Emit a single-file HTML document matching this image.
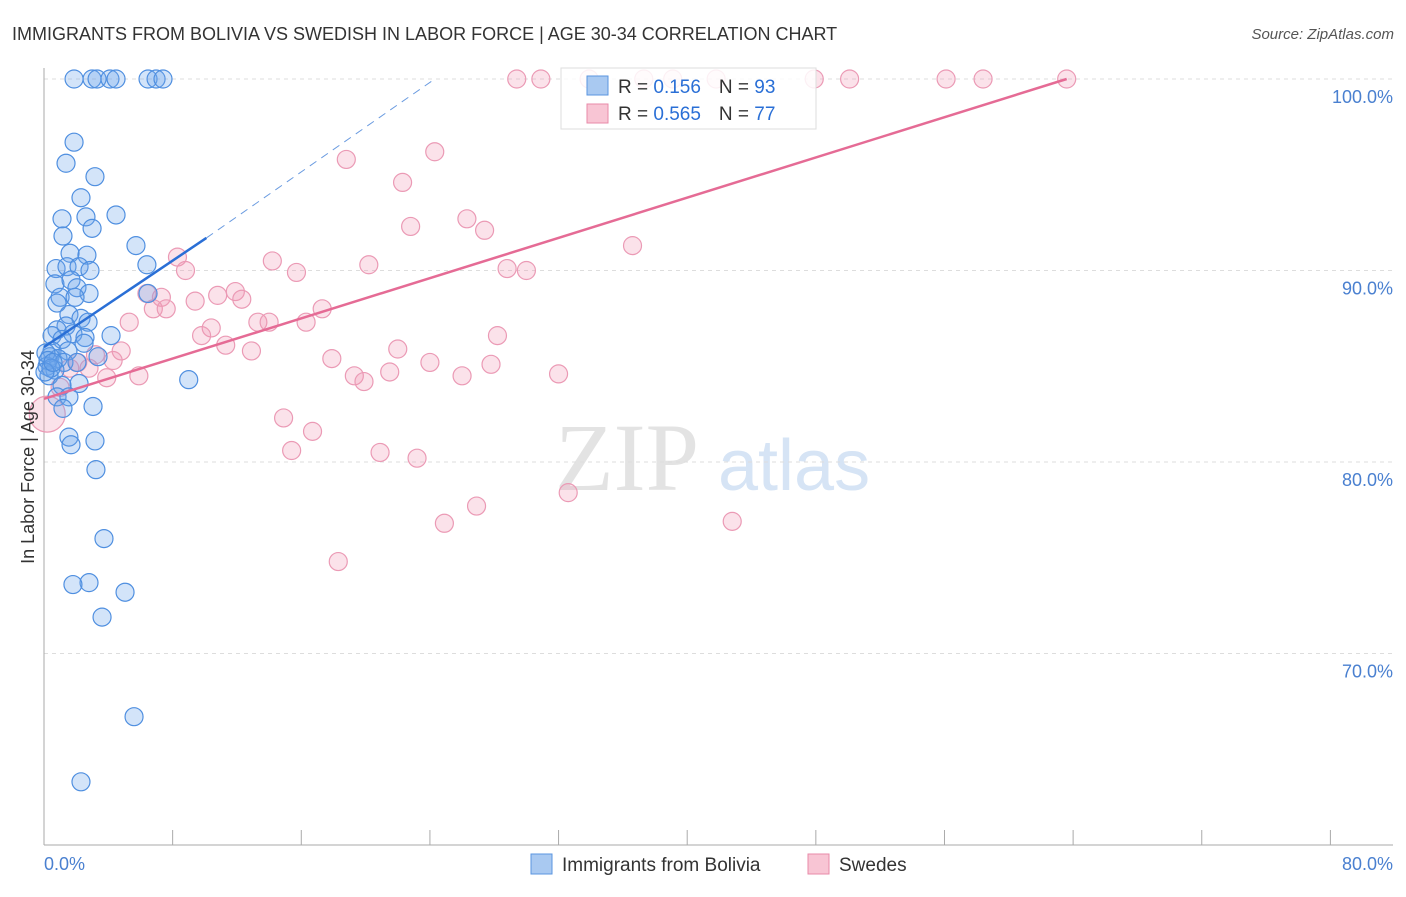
<!DOCTYPE html>
<html><head><meta charset="utf-8"><style>
body{margin:0;background:#fff;font-family:"Liberation Sans",sans-serif}
</style></head><body>
<svg id="chart" width="1406" height="892" xmlns="http://www.w3.org/2000/svg" font-family="Liberation Sans, sans-serif">
<text x="12" y="40" font-size="18" fill="#333">IMMIGRANTS FROM BOLIVIA VS SWEDISH IN LABOR FORCE | AGE 30-34 CORRELATION CHART</text>
<text x="1394" y="39" font-size="15" fill="#555" text-anchor="end" font-style="italic">Source: ZipAtlas.com</text>
<text x="555" y="490" font-size="96" fill="#e3e3e3" font-family="Liberation Serif, serif">ZIP</text>
<text x="718" y="490" font-size="72" fill="#d6e4f5">atlas</text>
<g id="grid"></g>
<g id="axes"></g>
<g id="marks"></g>
<g id="lines"></g>
<text transform="translate(34,457) rotate(-90)" font-size="18" fill="#333" text-anchor="middle">In Labor Force | Age 30-34</text>
<g>
<rect x="561" y="68" width="255" height="61" fill="#fff" fill-opacity="0.85" stroke="#ddd"/>
<rect x="587" y="76" width="21" height="19" fill="#a9c9f1" stroke="#5a95e0"/>
<rect x="587" y="104" width="21" height="19" fill="#f8c5d4" stroke="#e88aa8"/>
<text x="618" y="93" font-size="19" fill="#333">R = <tspan fill="#2a6fd6">0.156</tspan><tspan dx="18">N = </tspan><tspan fill="#2a6fd6">93</tspan></text>
<text x="618" y="120" font-size="19" fill="#333">R = <tspan fill="#2a6fd6">0.565</tspan><tspan dx="18">N = </tspan><tspan fill="#2a6fd6">77</tspan></text>
</g>
<g>
<rect x="531" y="854" width="21" height="20" fill="#a9c9f1" stroke="#5a95e0"/>
<text x="562" y="871" font-size="19" fill="#333">Immigrants from Bolivia</text>
<rect x="808" y="854" width="21" height="20" fill="#f8c5d4" stroke="#e88aa8"/>
<text x="839" y="871" font-size="19" fill="#333">Swedes</text>
</g>
</svg>
<script>
const yTicks=[100,90,80,70];
const yTickLabels=["100.0%","90.0%","80.0%","70.0%"];
const xTickLabels=["0.0%","80.0%"];
const blueX=[1.87,2.99,3.3,4.1,4.48,6.47,6.97,7.4,1.87,1.37,3.17,2.3,1.12,2.61,4.48,2.99,1.18,5.72,1.62,2.67,6.4,0.75,1.43,2.18,2.86,0.68,1.68,2.05,2.8,6.47,1.0,1.93,0.81,1.55,2.3,2.74,1.37,0.81,0.5,1.8,2.55,4.17,1.12,2.49,0.5,1.49,0.37,0.87,3.36,1.24,0.19,0.68,2.05,0.31,2.18,9.0,1.12,0.81,1.55,3.05,1.18,1.55,1.68,3.17,3.23,3.73,2.8,1.8,5.04,3.61,5.6,2.3,0.12,0.25,0.43,0.06,0.56];
const blueY=[100,100,100,100,100,100,100,100,96.7,95.6,94.9,93.8,92.7,92.8,92.9,92.2,91.8,91.3,90.9,90.8,90.3,90.1,90.2,90.2,90.0,89.3,89.5,89.1,88.8,88.8,88.6,88.6,88.3,87.7,87.5,87.3,87.1,86.9,86.6,86.7,86.5,86.6,86.4,86.2,85.8,85.8,85.5,85.4,85.5,85.2,85.0,84.8,85.2,84.5,84.1,84.3,84.0,83.4,83.4,82.9,82.8,81.3,80.9,81.1,79.6,76.0,73.7,73.6,73.2,71.9,66.7,63.3,85.7,85.3,84.9,84.7,85.2];
const pinkX=[29.4,30.9,33.9,37.3,39.1,41.8,47.9,50.1,56.1,58.4,63.6,18.8,24.3,22.3,26.3,22.8,27.4,36.6,8.3,14.2,8.8,15.7,20.2,28.8,30.0,11.9,6.4,7.3,10.8,12.3,9.4,6.8,7.6,17.3,5.3,13.3,14.0,16.3,10.4,9.8,28.2,11.3,12.9,4.8,22.0,3.2,4.3,17.9,24.0,27.8,2.1,1.6,2.8,3.9,5.9,19.3,19.9,21.5,26.0,32.0,1.0,0.2,14.9,16.7,15.4,20.9,23.2,32.6,26.9,24.9,42.8,18.3];
const pinkY=[100,100,100,100,100,100,100,100,100,100,100,95.8,96.2,94.6,92.7,92.3,92.1,91.3,90.7,90.5,90.0,89.9,90.3,90.1,90.0,88.9,88.8,88.6,88.7,88.5,88.4,88.0,88.0,88.0,87.3,87.3,87.3,87.3,87.0,86.6,86.6,86.1,85.8,85.8,85.9,85.6,85.3,85.4,85.2,85.1,85.2,84.9,84.9,84.4,84.5,84.5,84.2,84.7,84.5,84.6,83.9,82.5,82.3,81.6,80.6,80.5,80.2,78.4,77.7,76.8,76.9,74.8];
const blueTrend=[[0,86.0],[10.1,91.7],[24.3,100]];
const pinkTrend=[[0,83.3],[63.6,100]];
const NS="http://www.w3.org/2000/svg";
const X=v=>44+v*16.08, Y=v=>79+(100-v)*19.15;
function mk(t,a,p){const e=document.createElementNS(NS,t);for(const k in a)e.setAttribute(k,a[k]);document.getElementById(p).appendChild(e);return e;}
yTicks.forEach((t,i)=>{
 const g=mk('line',{x1:44,x2:1393,y1:Y(t),y2:Y(t),stroke:'#ddd','stroke-dasharray':'4,4'},'grid');
 
 
 const l=mk('text',{x:1393,y:Y(t)+24,'font-size':18,fill:'#4a80d0','text-anchor':'end'},'axes');
 l.textContent=yTickLabels[i];
 
 
});
const ax=mk('line',{x1:44,x2:44,y1:68,y2:845,stroke:'#aaa'},'axes');


const bx=mk('line',{x1:44,x2:1393,y1:845,y2:845,stroke:'#aaa'},'axes');


for(let i=0;i<=10;i++){const t=mk('line',{x1:X(i*8),x2:X(i*8),y1:830,y2:845,stroke:'#aaa'},'axes');
 
 }
const xl0=mk('text',{x:44,y:870,'font-size':18,fill:'#4a80d0'},'axes');xl0.textContent=xTickLabels[0];


const xl1=mk('text',{x:1393,y:870,'font-size':18,fill:'#4a80d0','text-anchor':'end'},'axes');xl1.textContent=xTickLabels[1];


pinkX.forEach((v,i)=>{const c=mk('circle',{cx:X(v),cy:Y(pinkY[i]),r:(i==61?18:9),fill:'rgba(242,150,180,0.28)',stroke:'#eb9ab5','stroke-width':1.2},'marks');
 
 });
blueX.forEach((v,i)=>{const c=mk('circle',{cx:X(v),cy:Y(blueY[i]),r:9,fill:'rgba(110,165,235,0.3)',stroke:'#4f8fe0','stroke-width':1.2},'marks');
 
 });
const b1=mk('line',{x1:X(blueTrend[0][0]),y1:Y(blueTrend[0][1]),x2:X(blueTrend[1][0]),y2:Y(blueTrend[1][1]),stroke:'#2a6fd6','stroke-width':2.5},'lines');


const b2=mk('line',{x1:X(blueTrend[1][0]),y1:Y(blueTrend[1][1]),x2:X(blueTrend[2][0]),y2:Y(blueTrend[2][1]),stroke:'#6a9be0','stroke-width':1,'stroke-dasharray':'8,6'},'lines');


const p1=mk('line',{x1:X(pinkTrend[0][0]),y1:Y(pinkTrend[0][1]),x2:X(pinkTrend[1][0]),y2:Y(pinkTrend[1][1]),stroke:'#e56b95','stroke-width':2.5},'lines');


</script>
</body></html>
